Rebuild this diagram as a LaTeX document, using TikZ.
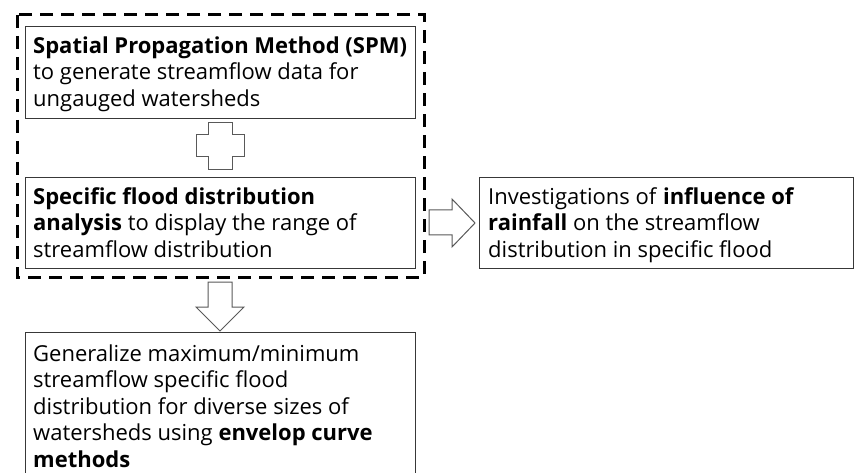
\documentclass[tikz,border=0pt]{standalone}
\usepackage{fontspec}
\setmainfont{Open Sans}
\begin{document}
\begin{tikzpicture}[x=1pt,y=-1pt,
  frame/.style={draw=black!78, line width=1.2pt, anchor=north west, inner sep=0pt},
  txt/.style={anchor=north west, align=left, inner sep=0pt,
    font=\fontsize{22}{26.5}\selectfont},
  blockarrow/.style={draw=black!65, line width=1pt, fill=white}]
\newcommand{\topstrut}{\rule{0pt}{17pt}}
\useasboundingbox (0,0) rectangle (854,473);
% dashed group
\draw[line width=3pt, dash pattern=on 13pt off 8pt] (17,15) rectangle (424,277);
% boxes
\node[frame, minimum width=390pt, minimum height=92pt] (spm) at (25,26) {};
\node[frame, minimum width=390pt, minimum height=91pt] (sfd) at (25,177) {};
\node[frame, minimum width=374pt, minimum height=91pt] (inv) at (479,177) {};
\node[frame, minimum width=390pt, minimum height=170pt] (gen) at (25,332) {};
% texts
\node[txt] (spmtext) at (33,36)
  {\topstrut\textbf{Spatial Propagation Method (SPM)}\\to generate streamflow data for\\ungauged watersheds};
\node[txt] (sfdtext) at (33,187)
  {\topstrut\textbf{Specific flood distribution}\\\textbf{analysis} to display the range of\\streamflow distribution};
\node[txt] (invtext) at (488,187)
  {\topstrut Investigations of \textbf{influence of}\\\textbf{rainfall} on the streamflow\\distribution in specific flood};
\node[txt] (gentext) at (33,344)
  {\topstrut Generalize maximum/minimum\\streamflow specific flood\\distribution for diverse sizes of\\watersheds using \textbf{envelop curve}\\\textbf{methods}};
% cross between spm and sfd
\draw[blockarrow] (208,123) -- (232,123) -- (232,135) -- (244,135) -- (244,157) -- (232,157)
  -- (232,170) -- (208,170) -- (208,157) -- (196,157) -- (196,135) -- (208,135) -- cycle;
% right arrow
\draw[blockarrow] (429,210) -- (452,210) -- (452,199) -- (475,223) -- (452,247) -- (452,235) -- (429,235) -- cycle;
% down arrow
\draw[blockarrow] (208,282) -- (232,282) -- (232,307) -- (244,307) -- (220,331) -- (196,307) -- (208,307) -- cycle;
\end{tikzpicture}
\end{document}
